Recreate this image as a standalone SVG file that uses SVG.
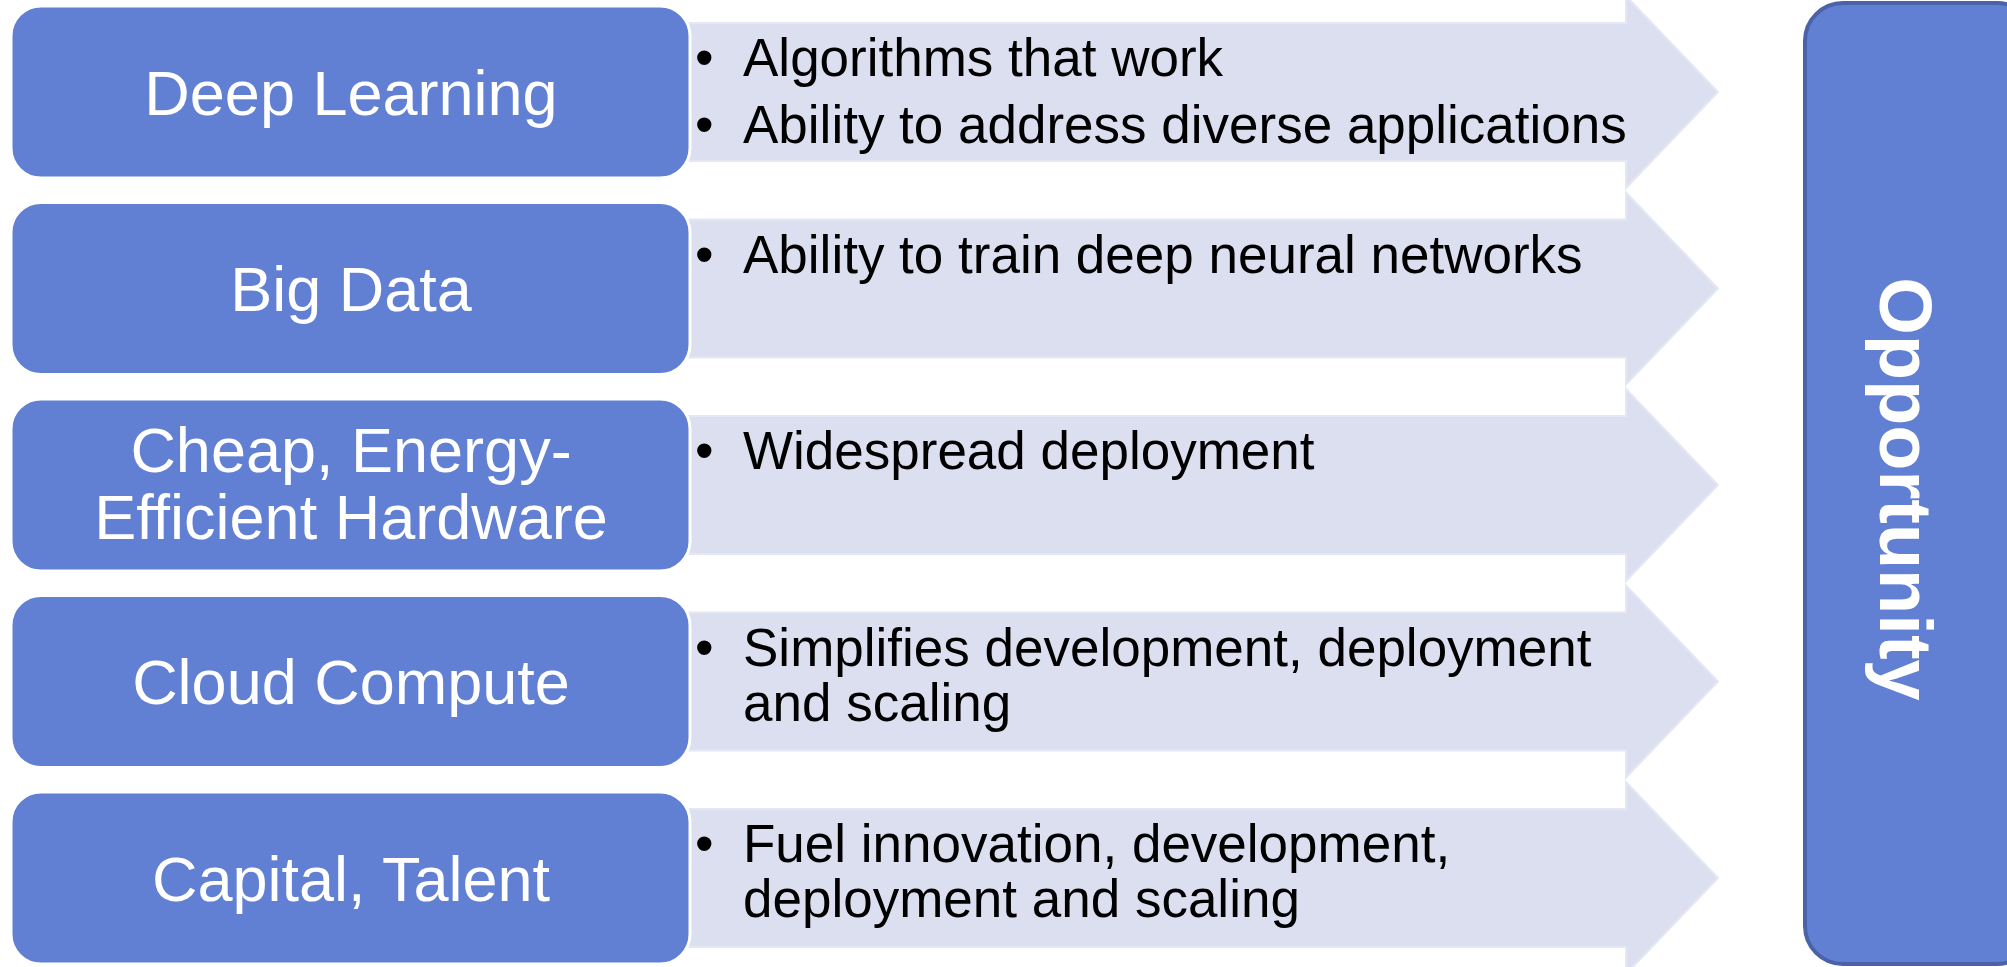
<svg xmlns="http://www.w3.org/2000/svg" width="2007" height="967" viewBox="0 0 2007 967">
  <defs>
    <style>
      .box { fill: #6280d3; stroke: #ffffff; stroke-width: 3; }
      .label { font-family: "Liberation Sans", Arial, sans-serif; font-size: 63px; fill: #ffffff; text-anchor: middle; }
      .arrow { fill: #dcdff0; stroke: #e4e7f4; stroke-width: 2; }
      .item { font-family: "Liberation Sans", Arial, sans-serif; font-size: 53px; fill: #000000; }
      .goal { fill: #6280d3; stroke: #4a62a8; stroke-width: 4; }
      .goal-text { font-family: "Liberation Sans", Arial, sans-serif; font-size: 74px; font-weight: bold; fill: #ffffff; text-anchor: middle; }
    </style>
  </defs>

  <rect x="0" y="0" width="2007" height="967" fill="#ffffff"/>

  <!-- chevron connectors carrying each driver towards the outcome -->
  <g id="connectors">
    <path class="arrow" d="M670,23 H1626 V-4 L1718,92 L1626,188 V161 H670 Z"/>
    <path class="arrow" d="M670,219.5 H1626 V192.5 L1718,288.5 L1626,384.5 V357.5 H670 Z"/>
    <path class="arrow" d="M670,416 H1626 V389 L1718,485 L1626,581 V554 H670 Z"/>
    <path class="arrow" d="M670,612.5 H1626 V585.5 L1718,681.5 L1626,777.5 V750.5 H670 Z"/>
    <path class="arrow" d="M670,809 H1626 V782 L1718,878 L1626,974 V947 H670 Z"/>
  </g>

  <!-- row 1 -->
  <g id="deep-learning">
    <rect class="box" x="11" y="6" width="679" height="172" rx="30"/>
    <text class="label" x="351" y="114.5">Deep Learning</text>
    <text class="item" x="695" y="76">•</text>
    <text class="item" x="743" y="76">Algorithms that work</text>
    <text class="item" x="695" y="143">•</text>
    <text class="item" x="743" y="143">Ability to address diverse applications</text>
  </g>

  <!-- row 2 -->
  <g id="big-data">
    <rect class="box" x="11" y="202.5" width="679" height="172" rx="30"/>
    <text class="label" x="351" y="311">Big Data</text>
    <text class="item" x="695" y="272.5">•</text>
    <text class="item" x="743" y="272.5">Ability to train deep neural networks</text>
  </g>

  <!-- row 3 -->
  <g id="hardware">
    <rect class="box" x="11" y="399" width="679" height="172" rx="30"/>
    <text class="label" x="351" y="472">Cheap, Energy-</text>
    <text class="label" x="351" y="539">Efficient Hardware</text>
    <text class="item" x="695" y="469">•</text>
    <text class="item" x="743" y="469">Widespread deployment</text>
  </g>

  <!-- row 4 -->
  <g id="cloud-compute">
    <rect class="box" x="11" y="595.5" width="679" height="172" rx="30"/>
    <text class="label" x="351" y="704">Cloud Compute</text>
    <text class="item" x="695" y="665.5">•</text>
    <text class="item" x="743" y="665.5">Simplifies development, deployment</text>
    <text class="item" x="743" y="720.5">and scaling</text>
  </g>

  <!-- row 5 -->
  <g id="capital-talent">
    <rect class="box" x="11" y="792" width="679" height="172" rx="30"/>
    <text class="label" x="351" y="900.5">Capital, Talent</text>
    <text class="item" x="695" y="862">•</text>
    <text class="item" x="743" y="862">Fuel innovation, development,</text>
    <text class="item" x="743" y="917">deployment and scaling</text>
  </g>

  <!-- outcome column -->
  <g id="opportunity">
    <rect class="goal" x="1805" y="3" width="230" height="961" rx="38"/>
    <text class="goal-text" transform="translate(1880,489) rotate(90)">Opportunity</text>
  </g>
</svg>
